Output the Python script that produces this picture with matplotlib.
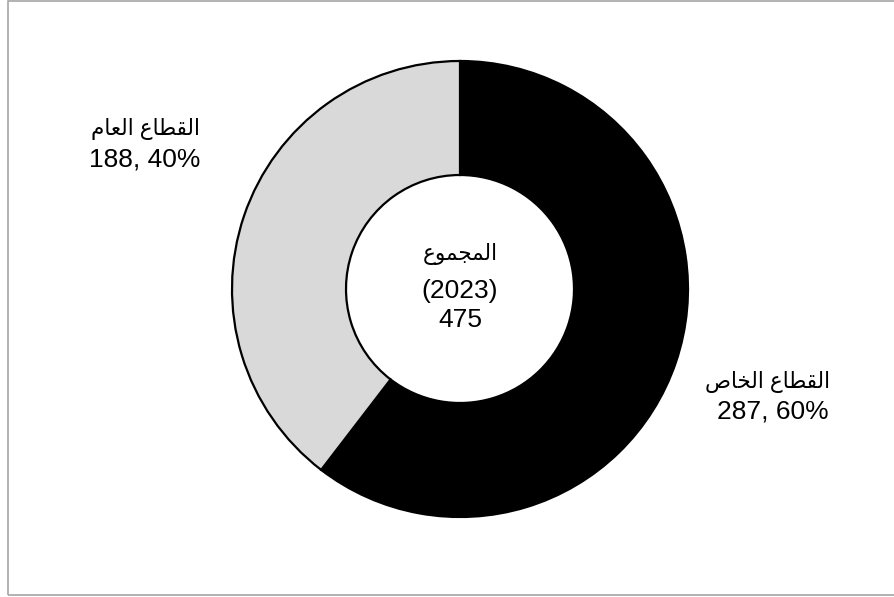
import matplotlib
matplotlib.use("Agg")
import matplotlib.pyplot as plt
from matplotlib.patches import Rectangle

# 데이터
sectors = ["القطاع الخاص", "القطاع العام"]
counts = [287, 188]
shares = [60, 40]
total_label = "المجموع"
year = 2023
colors_list = ["#000000", "#d9d9d9"]

# 아랍어 글자 모양 (isolated, final, initial, medial)
FORMS = {
    "ا": ("\ufe8d", "\ufe8e", None, None),
    "و": ("\ufeed", "\ufeee", None, None),
    "ل": ("\ufedd", "\ufede", "\ufedf", "\ufee0"),
    "ق": ("\ufed5", "\ufed6", "\ufed7", "\ufed8"),
    "ط": ("\ufec1", "\ufec2", "\ufec3", "\ufec4"),
    "ع": ("\ufec9", "\ufeca", "\ufecb", "\ufecc"),
    "م": ("\ufee1", "\ufee2", "\ufee3", "\ufee4"),
    "خ": ("\ufea5", "\ufea6", "\ufea7", "\ufea8"),
    "ص": ("\ufeb9", "\ufeba", "\ufebb", "\ufebc"),
    "ج": ("\ufe9d", "\ufe9e", "\ufe9f", "\ufea0"),
}


def shape(text):
    out = []
    for i, ch in enumerate(text):
        if ch not in FORMS:
            out.append(ch)
            continue
        prev = text[i - 1] if i > 0 else None
        nxt = text[i + 1] if i + 1 < len(text) else None
        j_prev = prev in FORMS and FORMS[prev][2] is not None
        j_next = nxt in FORMS and FORMS[ch][2] is not None
        iso, fin, ini, med = FORMS[ch]
        if j_prev and j_next:
            out.append(med)
        elif j_prev:
            out.append(fin)
        elif j_next:
            out.append(ini)
        else:
            out.append(iso)
    return "".join(out)[::-1]


plt.rcParams["font.family"] = ["Liberation Sans", "DejaVu Sans"]

fig = plt.figure(figsize=(8.95, 5.97), dpi=100)
ax = fig.add_axes([0, 0, 1, 1])

r_px = 228.0
cx, cy = 460.0, 289.0

ax.pie(counts, colors=colors_list, startangle=90, counterclock=False,
       radius=1.0, wedgeprops=dict(width=0.5, edgecolor="black", linewidth=1.6))
ax.set_xlim(-cx / r_px, (895 - cx) / r_px)
ax.set_ylim(-(597 - cy) / r_px, cy / r_px)
ax.set_aspect("auto")
ax.axis("off")

fs_num = 19
fs_ar = 15.5

def px(x, y):
    return ((x - cx) / r_px, (cy - y) / r_px)

# 라벨
x, y = px(830, 382)
ax.text(x, y, shape(sectors[0]), ha="right", va="center", fontsize=fs_ar)
x, y = px(829, 412)
ax.text(x, y, f"{counts[0]}, {shares[0]}%", ha="right", va="center", fontsize=fs_num)

x, y = px(200, 129)
ax.text(x, y, shape(sectors[1]), ha="right", va="center", fontsize=fs_ar)
x, y = px(200, 160)
ax.text(x, y, f"{counts[1]}, {shares[1]}%", ha="right", va="center", fontsize=fs_num)

# 중앙 합계
x, y = px(460, 254)
ax.text(x, y, shape(total_label), ha="center", va="center", fontsize=fs_ar)
x, y = px(460, 291)
ax.text(x, y, f"({year})", ha="center", va="center", fontsize=fs_num)
x, y = px(460, 320)
ax.text(x, y, f"{sum(counts)}", ha="center", va="center", fontsize=fs_num)

# 테두리
fig.patches.append(Rectangle((8 / 895, 2 / 597), 1.2, 1 - 3 / 597,
                             transform=fig.transFigure, fill=False,
                             edgecolor="#a6a6a6", linewidth=1.2))

fig.savefig("out.png", dpi=100)
